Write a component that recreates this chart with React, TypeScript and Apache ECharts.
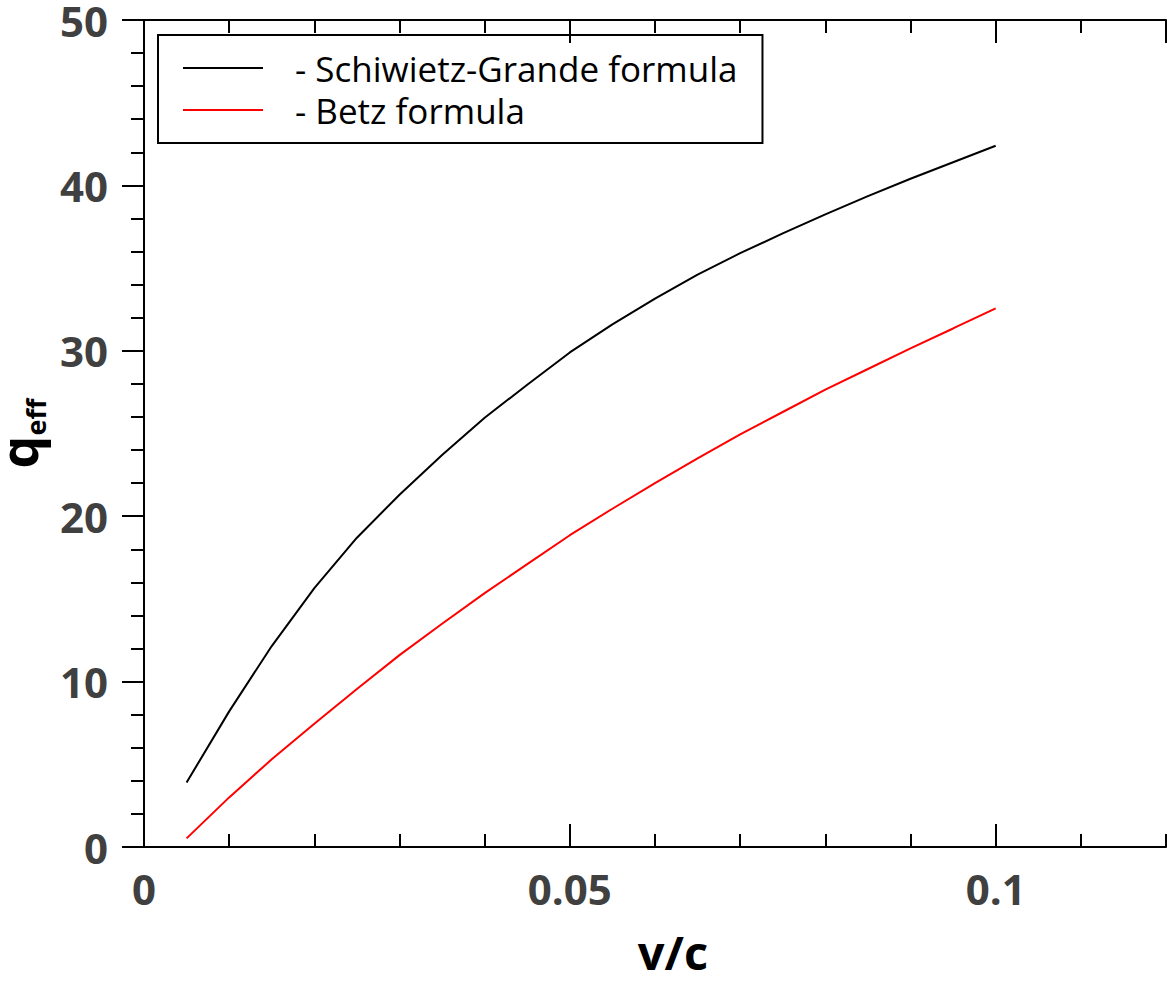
import React, { useEffect, useRef } from "react";
import * as echarts from "echarts";

const vOverC = [0.005, 0.01, 0.015, 0.02, 0.025, 0.03, 0.035, 0.04, 0.045, 0.05, 0.055, 0.06, 0.065, 0.07, 0.075, 0.08, 0.085, 0.09, 0.095, 0.1];
const schiwietzGrande = [3.9, 8.2, 12.15, 15.65, 18.7, 21.3, 23.7, 25.95, 27.95, 29.9, 31.6, 33.15, 34.6, 35.9, 37.1, 38.25, 39.35, 40.4, 41.4, 42.4];
const betz = [0.52, 3.0, 5.3, 7.45, 9.55, 11.6, 13.5, 15.35, 17.1, 18.85, 20.45, 22.0, 23.5, 24.95, 26.3, 27.65, 28.9, 30.15, 31.35, 32.57];
const seriesNames = ["- Schiwietz-Grande formula", "- Betz formula"];
const xMin = 0, xMax = 0.12, xMajor = 0.05, xMinor = 0.01;
const yMin = 0, yMax = 50, yMajor = 10;

const FONT = "'Open Sans', 'Noto Sans', sans-serif";

export default function App() {
  const ref = useRef<HTMLDivElement>(null);
  useEffect(() => {
    if (!ref.current) return;
    const chart = echarts.init(ref.current, null, { renderer: "svg" });
    const lineCol = "#000";
    const baseX = (pos: string, interval: number, tickLen: number, showLine: boolean, labels: boolean, extra: any = {}) => ({
      type: "value",
      position: pos,
      min: xMin,
      max: xMax,
      interval,
      axisLine: { show: showLine, onZero: false, lineStyle: { color: lineCol, width: 2 } },
      axisTick: { show: true, inside: true, length: tickLen, lineStyle: { color: lineCol, width: 2 } },
      axisLabel: labels
        ? { show: true, showMaxLabel: false, color: "#404040", fontWeight: "bold", fontSize: 42, fontFamily: FONT, margin: 20 }
        : { show: false },
      splitLine: { show: false },
      ...extra,
    });
    const option: any = {
      animation: false,
      backgroundColor: "#fff",
      grid: { left: 144, top: 20, right: 1, bottom: 136, containLabel: false, outerBoundsMode: "none" },
      legend: {
        left: 158,
        top: 35,
        orient: "vertical",
        data: seriesNames,
        icon: "rect",
        itemWidth: 80,
        itemHeight: 2,
        itemGap: 2,
        padding: [13, 25, 13, 25],
        borderColor: "#000",
        borderWidth: 2,
        textStyle: { fontFamily: FONT, fontSize: 35, color: "#000", lineHeight: 40, padding: [0, 0, 0, 27] },
      },
      xAxis: [
        baseX("bottom", xMajor, 23, true, true, {
          name: "v/c",
          nameLocation: "middle",
          nameGap: 81,
          nameTextStyle: { fontFamily: FONT, fontWeight: "bold", fontSize: 47, color: "#000", padding: [0, 0, 0, 36] },
        }),
        baseX("bottom", xMinor, 13, false, false),
        baseX("top", xMajor, 23, true, false),
        baseX("top", xMinor, 13, false, false),
      ],
      yAxis: [
        {
          type: "value",
          position: "left",
          min: yMin,
          max: yMax,
          interval: yMajor,
          axisLine: { show: true, lineStyle: { color: lineCol, width: 2 } },
          axisTick: { show: true, inside: false, length: 22, lineStyle: { color: lineCol, width: 2 } },
          minorTick: { show: true, splitNumber: 5, length: 13, lineStyle: { color: lineCol, width: 2 } },
          axisLabel: { color: "#404040", fontWeight: "bold", fontSize: 42, lineHeight: 36, fontFamily: FONT, margin: 36 },
          splitLine: { show: false },
          name: "{q|q}{s|eff}",
          nameLocation: "middle",
          nameGap: 90,
          nameTextStyle: {
            rich: {
              q: { fontFamily: FONT, fontWeight: "bold", fontSize: 52, color: "#000", lineHeight: 46, verticalAlign: "bottom" },
              s: { fontFamily: FONT, fontWeight: "bold", fontSize: 27, color: "#000", lineHeight: 27, verticalAlign: "bottom", padding: [0, 0, -6, 0] },
            },
          },
        },
        {
          type: "value",
          position: "right",
          min: yMin,
          max: yMax,
          interval: yMajor,
          axisLine: { show: true, lineStyle: { color: lineCol, width: 2 } },
          axisTick: { show: true, inside: true, length: 22, lineStyle: { color: lineCol, width: 2 } },
          minorTick: { show: true, splitNumber: 5, length: 13, lineStyle: { color: lineCol, width: 2 } },
          axisLabel: { show: false },
          splitLine: { show: false },
        },
      ],
      series: [
        {
          name: seriesNames[0],
          type: "line",
          xAxisIndex: 0,
          yAxisIndex: 0,
          data: vOverC.map((x, i) => [x, schiwietzGrande[i]]),
          showSymbol: false,
          symbol: "none",
          lineStyle: { color: "#000", width: 2 },
          itemStyle: { color: "#000" },
        },
        {
          name: seriesNames[1],
          type: "line",
          xAxisIndex: 0,
          yAxisIndex: 0,
          data: vOverC.map((x, i) => [x, betz[i]]),
          showSymbol: false,
          symbol: "none",
          lineStyle: { color: "#ff0000", width: 2 },
          itemStyle: { color: "#ff0000" },
        },
      ],
    };
    chart.setOption(option);
    return () => chart.dispose();
  }, []);
  return <div ref={ref} style={{ position: "absolute", left: 0, top: 0, width: 1167, height: 983 }} />;
}
